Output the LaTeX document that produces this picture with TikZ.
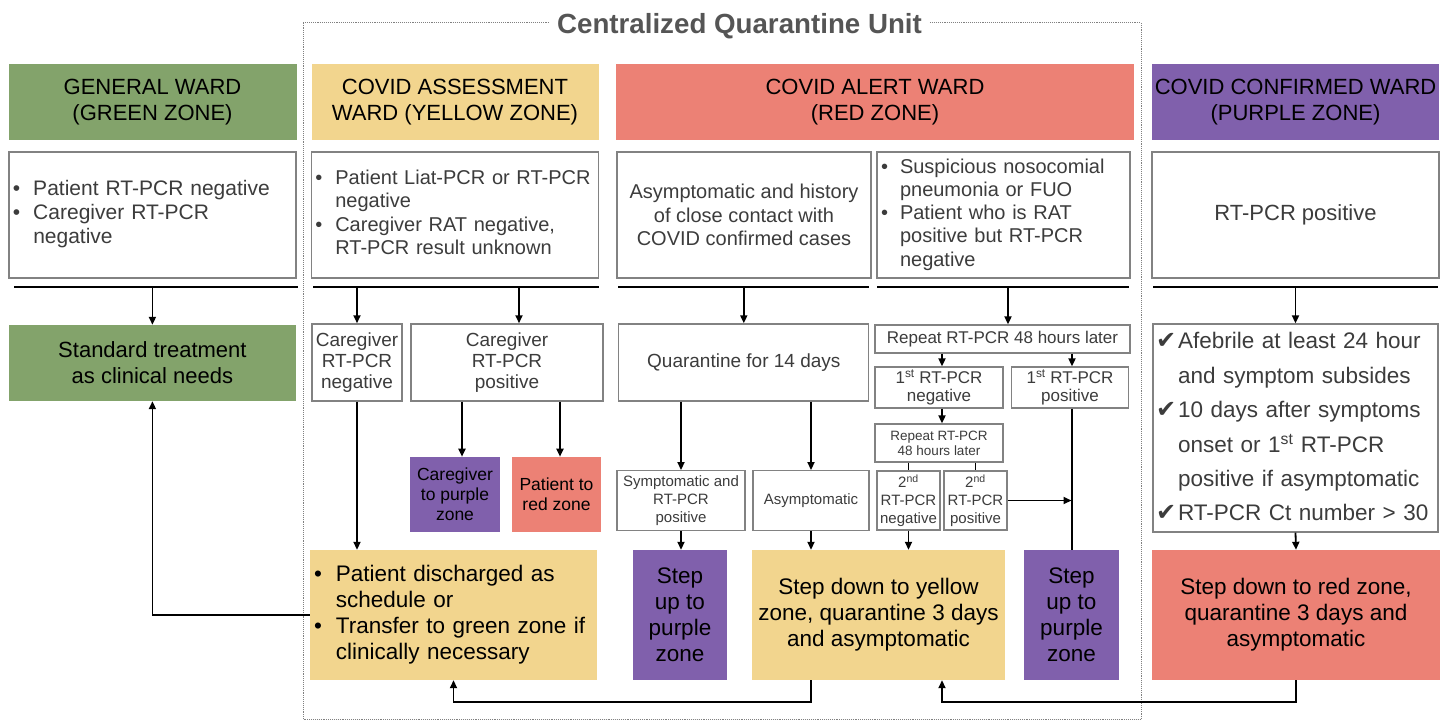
\documentclass[tikz,border=0pt]{standalone}
\usepackage{fontspec}
\setmainfont{Liberation Sans}
\newfontfamily\symfont{DejaVu Sans}
\usetikzlibrary{arrows.meta}
\definecolor{zgreen}{RGB}{131,163,107}
\definecolor{zyellow}{RGB}{242,213,142}
\definecolor{zred}{RGB}{236,129,117}
\definecolor{zpurple}{RGB}{128,96,172}
\definecolor{boxline}{RGB}{130,130,130}
\definecolor{txt}{RGB}{60,60,60}
\definecolor{titlegray}{RGB}{85,85,85}
\tikzset{head/.style={fill=#1, minimum height=76pt, inner sep=0pt, align=center, font=\fontsize{22}{26}\selectfont},
  info/.style={draw=boxline, line width=1.3pt, fill=white, text=txt, inner sep=0pt, align=center},
  tint/.style={fill=#1, inner sep=0pt, align=center},
  arr/.style={-{Triangle[length=8pt,width=7pt]}, line width=1.8pt},
  conn/.style={line width=1.8pt},
  sepline/.style={line width=2pt},
  frame/.style={densely dotted, line width=0.9pt, draw=gray}}
\newcommand{\bl}{\textbullet}
\newcommand{\ck}{{\symfont\fontsize{24}{24}\selectfont ✔}}

\begin{document}
\begin{tikzpicture}[x=1pt,y=-1pt]
   \useasboundingbox (0,0) rectangle (1449,721);
   \draw[frame] (303,22.7) rectangle (1141,719.5);
   \node[fill=white, text=titlegray, anchor=base, inner xsep=7pt, font=\bfseries\fontsize{27.7}{32}\selectfont] (tt) at (739.5,33.3) {Centralized Quarantine Unit};
   \node[head=zgreen,  minimum width=288pt] (hg) at (152.5,102) {GENERAL WARD\\(GREEN ZONE)};
   \node[head=zyellow, minimum width=287pt] (hy) at (455,102) {COVID ASSESSMENT\\WARD (YELLOW ZONE)};
   \node[head=zred,    minimum width=518pt] (hr) at (875,102) {COVID ALERT WARD\\(RED ZONE)};
   \node[head=zpurple, minimum width=287pt] (hp) at (1295.5,102) {COVID CONFIRMED WARD\\(PURPLE ZONE)};
   \node[info, minimum width=287pt, minimum height=126pt, text width=279pt, align=left, font=\fontsize{21}{24}\selectfont] (ig) at (152.4,215)
     {\begin{tabular}{@{}l@{\hspace{13pt}}l@{}}\bl & Patient RT-PCR negative\\ \bl & Caregiver RT-PCR\\ & negative\end{tabular}};
   \node[info, minimum width=287pt, minimum height=126pt, text width=279pt, align=left, font=\fontsize{20}{23.5}\selectfont] (iy) at (454.8,215)
     {\begin{tabular}{@{}l@{\hspace{13pt}}l@{}}\bl & Patient Liat-PCR or RT-PCR\\ & negative\\ \bl & Caregiver RAT negative,\\ & RT-PCR result unknown\end{tabular}};
   \node[info, minimum width=254pt, minimum height=126pt, font=\fontsize{20}{23.5}\selectfont] (ira) at (744,215) {Asymptomatic and history\\of close contact with\\COVID confirmed cases};
   \node[info, minimum width=253pt, minimum height=126pt, text width=245pt, align=left, font=\fontsize{20}{23.3}\selectfont] (irb) at (1003.5,215)
     {\begin{tabular}{@{}l@{\hspace{12pt}}l@{}}\bl & Suspicious nosocomial\\ & pneumonia or FUO\\ \bl & Patient who is RAT\\ & positive but RT-PCR\\ & negative\end{tabular}};
   \node[info, minimum width=287pt, minimum height=126pt, font=\fontsize{22}{26}\selectfont] (ip) at (1295.5,215) {RT-PCR positive};
   \coordinate (ly) at (0,286.5);
   \coordinate (lb) at (0,701.7);
   \draw[sepline] (14,286.5) -- (298,286.5);
   \draw[sepline] (313,286.5) -- (599,286.5);
   \draw[sepline] (618,286.5) -- (869,286.5);
   \draw[sepline] (877,286.5) -- (1129,286.5);
   \draw[sepline] (1153,286.5) -- (1438,286.5);
   \node[tint=zgreen, minimum width=287pt, minimum height=76pt, font=\fontsize{22}{26}\selectfont] (gs) at (152.4,363) {Standard treatment\\as clinical needs};
   \node[info, minimum width=90pt, minimum height=77pt, font=\fontsize{19}{21}\selectfont] (cn) at (357,362.4) {Caregiver\\RT-PCR\\negative};
   \node[info, minimum width=192pt, minimum height=77pt, font=\fontsize{19}{21}\selectfont] (cp) at (507,362.4) {Caregiver\\RT-PCR\\positive};
   \node[tint=zpurple, minimum width=90pt, minimum height=75pt, font=\fontsize{17.5}{20}\selectfont] (cg) at (455,494.4) {Caregiver\\to purple\\zone};
   \node[tint=zred, minimum width=89pt, minimum height=75pt, font=\fontsize{17.5}{20}\selectfont] (pr) at (556.5,494.4) {Patient to\\red zone};
   \node[tint=zyellow, minimum width=287pt, minimum height=130pt, text width=279pt, align=left, font=\fontsize{22.5}{26}\selectfont] (ds) at (453.5,615)
     {\begin{tabular}{@{}l@{\hspace{14pt}}l@{}}\bl & Patient discharged as\\ & schedule or\\ \bl & Transfer to green zone if\\ & clinically necessary\end{tabular}};
   \node[info, minimum width=250pt, minimum height=77pt, font=\fontsize{19}{22}\selectfont] (qu) at (743.8,362.4) {Quarantine for 14 days};
   \node[info, minimum width=128pt, minimum height=60pt, font=\fontsize{15}{17.7}\selectfont] (sy) at (681,500.7) {Symptomatic and\\RT-PCR\\positive};
   \node[info, minimum width=116pt, minimum height=60pt, font=\fontsize{15}{17.7}\selectfont] (as) at (811,500.7) {Asymptomatic};
   \node[info, minimum width=255pt, minimum height=28pt, font=\fontsize{17}{19}\selectfont] (r1) at (1002.5,339) {Repeat RT-PCR 48 hours later};
   \node[info, minimum width=128pt, minimum height=41pt, font=\fontsize{17}{17.5}\selectfont] (n1) at (939,387.5) {1\textsuperscript{st} RT-PCR\\negative};
   \node[info, minimum width=117pt, minimum height=41pt, font=\fontsize{17}{17.5}\selectfont] (p1) at (1070,387.5) {1\textsuperscript{st} RT-PCR\\positive};
   \node[info, minimum width=128pt, minimum height=38pt, font=\fontsize{13.5}{14.7}\selectfont] (r2) at (939,443) {Repeat RT-PCR\\48 hours later};
   \node[info, minimum width=63pt, minimum height=59pt, font=\fontsize{15}{17.7}\selectfont] (n2) at (908.5,500.5) {2\textsuperscript{nd}\\RT-PCR\\negative};
   \node[info, minimum width=63pt, minimum height=59pt, font=\fontsize{15}{17.7}\selectfont] (p2) at (975.5,500.5) {2\textsuperscript{nd}\\RT-PCR\\positive};
   \node[tint=zpurple, minimum width=94.5pt, minimum height=130pt, font=\fontsize{22.5}{26}\selectfont] (u1) at (680,615) {Step\\up to\\purple\\zone};
   \node[tint=zyellow, minimum width=253pt, minimum height=130pt, font=\fontsize{22.5}{26}\selectfont] (dn) at (878.5,615) {Step down to yellow\\zone, quarantine 3 days\\and asymptomatic};
   \node[tint=zpurple, minimum width=95pt, minimum height=130pt, font=\fontsize{22.5}{26}\selectfont] (u2) at (1071.5,615) {Step\\up to\\purple\\zone};
   \node[info, minimum width=285pt, minimum height=208pt, text width=279pt, align=left, font=\fontsize{22.5}{34.4}\selectfont] (ck) at (1295.5,428)
     {\begin{tabular}{@{}l@{\hspace{2pt}}l@{}}\ck & Afebrile at least 24 hour\\ & and symptom subsides\\ \ck & 10 days after symptoms\\ & onset or 1\textsuperscript{st} RT-PCR\\ & positive if asymptomatic\\ \ck & RT-PCR Ct number > 30\end{tabular}};
   \node[tint=zred, minimum width=288pt, minimum height=130pt, font=\fontsize{22.5}{26}\selectfont] (rd) at (1296,615) {Step down to red zone,\\quarantine 3 days and\\asymptomatic};
   \draw[arr] (ig.south |- ly) -- (gs.north);
   \draw[arr] (cn.north |- ly) -- (cn.north);
   \draw[arr] ([xshift=12pt]cp.north |- ly) -- ([xshift=12pt]cp.north);
   \draw[arr] (qu.north |- ly) -- (qu.north);
   \draw[arr] ([xshift=5.5pt]r1.north |- ly) -- ([xshift=5.5pt]r1.north);
   \draw[arr] (ck.north |- ly) -- (ck.north);
   \draw[arr] ([xshift=7pt]cg.north |- cp.south) -- ([xshift=7pt]cg.north);
   \draw[arr] ([xshift=3.5pt]pr.north |- cp.south) -- ([xshift=3.5pt]pr.north);
   \draw[arr] (cn.south) -- (cn.south |- ds.north);
   \draw[arr] (ds.west) -- (ds.west -| gs.south) -- (gs.south);
   \draw[arr] (sy.north |- qu.south) -- (sy.north);
   \draw[arr] (as.north |- qu.south) -- (as.north);
   \draw[arr] (sy.south) -- (sy.south |- u1.north);
   \draw[arr] (as.south) -- (as.south |- dn.north);
   \draw[arr] (n2.south) -- (n2.south |- dn.north);
   \draw[arr] ([xshift=3pt]n1.north |- r1.south) -- ([xshift=3pt]n1.north);
   \draw[arr] ([xshift=2pt]p1.north |- r1.south) -- ([xshift=2pt]p1.north);
   \draw[arr] ([xshift=3pt]n1.south) -- ([xshift=3pt]r2.north);
   \draw[conn] (r2.south -| n2.north) -- (n2.north);
   \draw[conn] (r2.south -| p2.north) -- (p2.north);
   \draw[conn] ([xshift=2pt]p1.south) -- ([xshift=2pt]p1.south |- u2.north);
   \draw[arr] (p2.east) -- (p2.east -| u2.north);
   \draw[arr] (ck.south) -- (rd.north);
   \draw[arr] (as.south |- dn.south) -- (as.south |- lb) -| (ds.south);
   \draw[arr] (rd.south) -- (rd.south |- lb) -| ([xshift=3pt]n1.south |- dn.south);
\end{tikzpicture}
\end{document}
